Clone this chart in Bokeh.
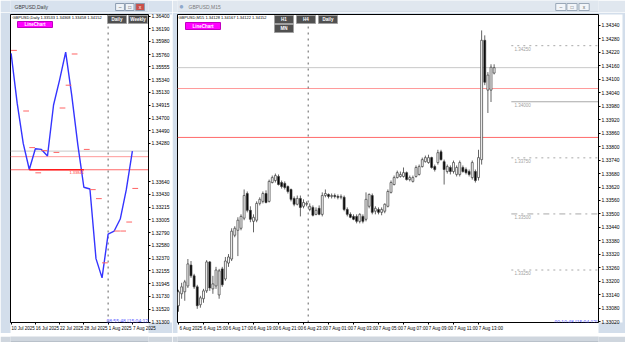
from bokeh.plotting import figure
from bokeh.layouts import row, column
from bokeh.models import (ColumnDataSource, FixedTicker, Span, Label, BoxAnnotation,
                          Range1d, PrintfTickFormatter)
from bokeh.core.properties import value
from bokeh.embed import file_html
from bokeh.resources import INLINE

# ---------------- data : GBPUSD Daily (left window) ----------------
daily_dates = ["10 Jul 2025", "11 Jul 2025", "14 Jul 2025", "15 Jul 2025", "16 Jul 2025",
               "17 Jul 2025", "18 Jul 2025", "21 Jul 2025", "22 Jul 2025", "23 Jul 2025",
               "24 Jul 2025", "25 Jul 2025", "28 Jul 2025", "29 Jul 2025", "30 Jul 2025",
               "31 Jul 2025", "1 Aug 2025", "4 Aug 2025", "5 Aug 2025", "6 Aug 2025", "7 Aug 2025"]
daily_close = [1.35780, 1.34950, 1.34280, 1.33845, 1.34190, 1.34180, 1.34070, 1.34920,
               1.35340, 1.35800, 1.35080, 1.34260, 1.33550, 1.33520, 1.32360, 1.32040,
               1.32770, 1.32820, 1.33020, 1.33510, 1.34152]
daily_tick_idx = [0, 4, 8, 12, 16, 20]
daily_tick_labels = ["10 Jul 2025", "16 Jul 2025", "22 Jul 2025", "28 Jul 2025", "1 Aug 2025", "7 Aug 2025"]
daily_mark_idx = [0, 2, 3, 4, 5, 7, 8, 9, 10, 12, 13, 14, 15, 17, 18, 19, 20]
daily_mark_price = [1.3583, 1.3482, 1.3421, 1.3379, 1.3416, 1.3413, 1.3487, 1.3525, 1.3577,
                    1.3418, 1.3351, 1.3336, 1.3229, 1.3282, 1.3282, 1.3297, 1.3353]
daily_price_ticks = [1.36400, 1.36190, 1.35980, 1.35760, 1.35555, 1.35340, 1.35130, 1.34915,
                     1.34700, 1.34490, 1.34280, 1.33640, 1.33430, 1.33215, 1.33005, 1.32790,
                     1.32580, 1.32370, 1.32155, 1.31945, 1.31730, 1.31520, 1.31300]
daily_separator_idx = 16
daily_support_from = 3
daily_support_to = 12

# ---------------- data : GBPUSD M15 (right window) ----------------
m15_open = [1.33091, 1.33144, 1.33153, 1.33179, 1.33272, 1.33224, 1.33175, 1.33095, 1.33122, 1.33157,
            1.33286, 1.33166, 1.33179, 1.33139, 1.33255, 1.33210, 1.33281, 1.33299, 1.33405, 1.33427,
            1.33436, 1.33481, 1.33591, 1.33516, 1.33467, 1.33472, 1.33547, 1.33556, 1.33591, 1.33556,
            1.33640, 1.33649, 1.33667, 1.33640, 1.33636, 1.33622, 1.33609, 1.33569, 1.33543, 1.33569,
            1.33534, 1.33543, 1.33520, 1.33529, 1.33498, 1.33525, 1.33498, 1.33582, 1.33587, 1.33578,
            1.33582, 1.33578, 1.33574, 1.33574, 1.33520, 1.33498, 1.33489, 1.33489, 1.33467, 1.33489,
            1.33476, 1.33534, 1.33582, 1.33512, 1.33520, 1.33507, 1.33512, 1.33534, 1.33596, 1.33631,
            1.33662, 1.33667, 1.33667, 1.33684, 1.33653, 1.33645, 1.33667, 1.33676, 1.33711, 1.33733,
            1.33729, 1.33751, 1.33711, 1.33729, 1.33777, 1.33733, 1.33689, 1.33707, 1.33689, 1.33676,
            1.33676, 1.33707, 1.33698, 1.33689, 1.33662, 1.33689, 1.33662, 1.33742, 1.34274, 1.34052,
            1.34052, 1.34128]
m15_high = [1.33162, 1.33193, 1.33206, 1.33299, 1.33290, 1.33233, 1.33184, 1.33135, 1.33166, 1.33294,
            1.33290, 1.33224, 1.33264, 1.33255, 1.33264, 1.33308, 1.33321, 1.33436, 1.33445, 1.33485,
            1.33498, 1.33609, 1.33600, 1.33534, 1.33498, 1.33556, 1.33574, 1.33600, 1.33605, 1.33653,
            1.33671, 1.33680, 1.33676, 1.33649, 1.33645, 1.33627, 1.33613, 1.33578, 1.33582, 1.33582,
            1.33565, 1.33556, 1.33547, 1.33538, 1.33529, 1.33538, 1.33596, 1.33609, 1.33591, 1.33591,
            1.33591, 1.33587, 1.33587, 1.33582, 1.33529, 1.33507, 1.33498, 1.33498, 1.33503, 1.33498,
            1.33596, 1.33591, 1.33591, 1.33534, 1.33529, 1.33529, 1.33547, 1.33609, 1.33649, 1.33671,
            1.33693, 1.33689, 1.33707, 1.33689, 1.33671, 1.33671, 1.33716, 1.33720, 1.33751, 1.33760,
            1.33764, 1.33755, 1.33720, 1.33786, 1.33786, 1.33742, 1.33720, 1.33716, 1.33738, 1.33716,
            1.33738, 1.33716, 1.33707, 1.33698, 1.33738, 1.33698, 1.33786, 1.34318, 1.34296, 1.34132,
            1.34167, 1.34167]
m15_low = [1.33064, 1.33122, 1.33113, 1.33170, 1.33215, 1.33166, 1.33077, 1.33082, 1.33104, 1.33148,
           1.33157, 1.33144, 1.33166, 1.33122, 1.33175, 1.33202, 1.33264, 1.33290, 1.33396, 1.33312,
           1.33427, 1.33472, 1.33507, 1.33463, 1.33418, 1.33463, 1.33538, 1.33547, 1.33547, 1.33551,
           1.33636, 1.33640, 1.33627, 1.33613, 1.33609, 1.33591, 1.33556, 1.33534, 1.33538, 1.33489,
           1.33525, 1.33534, 1.33512, 1.33489, 1.33494, 1.33494, 1.33489, 1.33574, 1.33569, 1.33569,
           1.33569, 1.33565, 1.33565, 1.33512, 1.33489, 1.33481, 1.33472, 1.33458, 1.33458, 1.33458,
           1.33467, 1.33525, 1.33498, 1.33498, 1.33498, 1.33494, 1.33503, 1.33529, 1.33591, 1.33627,
           1.33658, 1.33662, 1.33662, 1.33649, 1.33645, 1.33640, 1.33662, 1.33671, 1.33707, 1.33729,
           1.33724, 1.33702, 1.33689, 1.33720, 1.33738, 1.33631, 1.33680, 1.33676, 1.33680, 1.33667,
           1.33667, 1.33684, 1.33676, 1.33667, 1.33653, 1.33640, 1.33649, 1.33720, 1.34074, 1.33950,
           1.33999, 1.34122]
m15_close = [1.33153, 1.33175, 1.33197, 1.33277, 1.33224, 1.33175, 1.33091, 1.33126, 1.33157, 1.33286,
             1.33170, 1.33188, 1.33250, 1.33246, 1.33184, 1.33290, 1.33308, 1.33423, 1.33436, 1.33472,
             1.33489, 1.33582, 1.33516, 1.33476, 1.33485, 1.33547, 1.33565, 1.33591, 1.33551, 1.33645,
             1.33662, 1.33671, 1.33631, 1.33622, 1.33618, 1.33600, 1.33565, 1.33543, 1.33569, 1.33529,
             1.33551, 1.33547, 1.33534, 1.33494, 1.33516, 1.33498, 1.33582, 1.33591, 1.33578, 1.33582,
             1.33578, 1.33574, 1.33578, 1.33520, 1.33498, 1.33485, 1.33476, 1.33467, 1.33498, 1.33467,
             1.33565, 1.33587, 1.33507, 1.33525, 1.33507, 1.33520, 1.33543, 1.33600, 1.33640, 1.33662,
             1.33684, 1.33676, 1.33684, 1.33653, 1.33662, 1.33662, 1.33707, 1.33711, 1.33742, 1.33751,
             1.33751, 1.33707, 1.33698, 1.33773, 1.33742, 1.33698, 1.33711, 1.33689, 1.33729, 1.33707,
             1.33729, 1.33689, 1.33684, 1.33676, 1.33729, 1.33649, 1.33751, 1.34274, 1.34087, 1.34119,
             1.34154, 1.34152]
m15_tick_idx = [0, 8, 16, 24, 32, 40, 48, 56, 64, 72, 80, 88, 96]
m15_tick_labels = ["6 Aug 2025", "6 Aug 15:00", "6 Aug 17:00", "6 Aug 19:00", "6 Aug 21:00",
                   "6 Aug 23:00", "7 Aug 01:00", "7 Aug 03:00", "7 Aug 05:00", "7 Aug 07:00",
                   "7 Aug 09:00", "7 Aug 11:00", "7 Aug 13:00"]
m15_price_ticks = [1.34340, 1.34280, 1.34220, 1.34160, 1.34100, 1.34040, 1.33980, 1.33920,
                   1.33860, 1.33800, 1.33740, 1.33680, 1.33620, 1.33560, 1.33500, 1.33440,
                   1.33380, 1.33320, 1.33260, 1.33200, 1.33140, 1.33080, 1.33020]
m15_separator_idx = 41.5
round_levels = [1.34250, 1.34000, 1.33750, 1.33500, 1.33250]
round_level_dash = ["dotted", "solid", "dotted", "dashdot", "dotted"]

bid_price = 1.34152
level_upper = 1.34059
level_lower = 1.33841

# ---------------- helpers ----------------
FONT = "Liberation Sans"
CHROME = "#d3deeb"
TITLE_H, CHART_H, FOOT_H = 12, 321, 9


def box(p, x0, y0, x1, y1, fill, line=None):
    p.add_layout(BoxAnnotation(left=x0, right=x1, top=y0, bottom=y1,
                               left_units="canvas", right_units="canvas",
                               top_units="canvas", bottom_units="canvas",
                               fill_color=fill, fill_alpha=1.0,
                               line_color=line if line else fill, line_alpha=1.0,
                               line_width=1, level="overlay"))


def txt(p, x, y, s, size="5px", color="black", align="left", bold=False):
    p.add_layout(Label(x=x, y=y, text=s, x_units="canvas", y_units="canvas",
                       text_font=FONT, text_font_size=size, text_color=color,
                       text_align=align, text_baseline="middle",
                       text_font_style="bold" if bold else "normal", level="overlay"))


def price_tag(p, x, price, s, bg):
    p.add_layout(Label(x=x, y=price, text=s, x_units="canvas", y_units="data",
                       text_font=FONT, text_font_size="5px", text_color="white",
                       text_align="left", text_baseline="middle",
                       background_fill_color=bg, background_fill_alpha=1.0,
                       padding=1, level="overlay"))


def strip(w, h, bg):
    f = figure(width=w, height=h, output_backend="svg", toolbar_location=None,
               x_axis_type=None, y_axis_type=None, x_range=Range1d(0, w), y_range=Range1d(h, 0),
               min_border_left=0, min_border_right=0, min_border_top=0, min_border_bottom=0)
    f.outline_line_color = None
    f.background_fill_color = bg
    f.border_fill_color = bg
    f.grid.visible = False
    return f


def window_buttons(t, lefts, fills, fgs, border, symbols):
    t.quad(left=lefts, right=[x + 11 for x in lefts], top=[3] * len(lefts), bottom=[10] * len(lefts),
           fill_color=fills, line_color=border, line_width=1)
    t.text(x=[x + 5.5 for x in lefts], y=[6.8] * len(lefts), text=symbols, text_color=fgs,
           text_font=value(FONT), text_font_size="5px", text_align="center",
           text_baseline="middle")


def style(p, price_ticks, xt_major, xt_minor, labels):
    p.xgrid.visible = False
    p.ygrid.visible = False
    p.outline_line_color = "black"
    p.outline_line_alpha = 1.0
    p.background_fill_color = "white"
    p.border_fill_color = CHROME
    ya = p.yaxis[0]
    ya.background_fill_color = "white"
    ya.background_fill_alpha = 1.0
    ya.ticker = FixedTicker(ticks=price_ticks)
    ya.formatter = PrintfTickFormatter(format="%.5f")
    ya.major_label_text_font = FONT
    ya.major_label_text_font_size = "5px"
    ya.major_label_text_color = "black"
    ya.major_tick_out = 2
    ya.major_tick_in = 0
    ya.minor_tick_out = 0
    ya.major_label_standoff = 1
    ya.axis_line_color = "black"
    xa = p.xaxis[0]
    xa.background_fill_color = "white"
    xa.background_fill_alpha = 1.0
    xa.ticker = FixedTicker(ticks=xt_major, minor_ticks=xt_minor)
    xa.major_label_overrides = {t: s for t, s in zip(xt_major, labels)}
    xa.major_label_text_font = FONT
    xa.major_label_text_font_size = "4.5px"
    xa.major_label_text_color = "black"
    xa.major_tick_out = 0
    xa.major_tick_in = 0
    xa.minor_tick_out = 2
    xa.minor_tick_in = 0
    xa.minor_tick_line_color = "black"
    xa.major_label_standoff = 1
    xa.axis_line_color = "black"


# ---------------- left window : Daily line chart ----------------
t1 = strip(172, TITLE_H, "#d8e2ee")
t1.quad(left=[0], right=[172], top=[11], bottom=[12], fill_color="#c2cedc", line_color=None)
txt(t1, 6, 6, "\u25cf", size="8px", color="#5b82b8", align="center")
txt(t1, 14, 6, "GBPUSD,Daily", size="5px", color="#3c3c3c")
window_buttons(t1, [131, 143, 156], ["#eef2f7", "#eef2f7", "#c9504a"],
               ["#404040", "#404040", "white"], "#8c9cb0", ["\u2013", "\u25a1", "x"])

p1 = figure(width=172, height=CHART_H, output_backend="svg", toolbar_location=None,
            x_range=Range1d(-0.1, 22.66), y_range=Range1d(1.31296, 1.36428),
            y_axis_location="right", x_axis_location="below",
            min_border_left=10, min_border_right=22, min_border_top=2, min_border_bottom=9)
style(p1, daily_price_ticks, [i + 2 for i in daily_tick_idx], daily_tick_idx, daily_tick_labels)

for loc, col in ((bid_price, "#c8c8c8"), (level_upper, "#ff9a9a"), (level_lower, "#ff6a6a")):
    p1.add_layout(Span(location=loc, dimension="width", line_color=col, line_width=1, level="underlay"))
p1.add_layout(Span(location=daily_separator_idx, dimension="height", line_color="#606060",
                   line_width=1, line_dash="dotted", level="underlay"))

didx = list(range(len(daily_close)))
p1.line(didx, daily_close, line_color="#3434ff", line_width=1.4)
p1.segment(x0=daily_mark_idx, y0=daily_mark_price, x1=[i + 0.95 for i in daily_mark_idx],
           y1=daily_mark_price, line_color="#ff6464", line_width=1)
p1.segment(x0=[daily_support_from], y0=[level_lower], x1=[daily_support_to], y1=[level_lower],
           line_color="#ff1a1a", line_width=1.6)
p1.add_layout(Label(x=daily_support_to, y=level_lower, text=f"{level_lower:.5f}", text_font=FONT,
                    text_font_size="4px", text_color="#ff3030", text_align="right",
                    text_baseline="top", y_offset=-1))

txt(p1, 12, 5, "GBPUSD,Daily  1.33533 1.34368 1.33458 1.34152", size="4px")
box(p1, 17, 9, 52, 15, "#ff00ff", "#c000c0")
txt(p1, 34.5, 12, "LineChart", size="4.5px", color="white", align="center", bold=True)
box(p1, 107, 3, 126, 11, "#505050", "#a0a0a0")
txt(p1, 116.5, 7, "Daily", size="4.5px", color="white", align="center", bold=True)
box(p1, 128, 3, 147, 11, "#505050", "#a0a0a0")
txt(p1, 137.5, 7, "Weekly", size="4.5px", color="white", align="center", bold=True)
txt(p1, 149, 308, "08:55:48 [15:04:12]", size="5px", color="#5a5aff", align="right")
price_tag(p1, 152, bid_price, f"{bid_price:.5f}", "#000000")
price_tag(p1, 152, level_upper, f"{level_upper:.5f}", "#ff1f1f")
price_tag(p1, 152, level_lower, f"{level_lower:.5f}", "#ff1f1f")

f1 = strip(172, FOOT_H, "#cfd6de")
f1.quad(left=[0], right=[172], top=[5], bottom=[6], fill_color="#a3acb6", line_color=None)

# ---------------- right window : M15 candles ----------------
t2 = strip(453, TITLE_H, "#e0e7ef")
t2.quad(left=[0], right=[453], top=[11], bottom=[12], fill_color="#c8d3e0", line_color=None)
txt(t2, 9, 6, "\u25cf", size="8px", color="#8fa9cc", align="center")
txt(t2, 16, 6, "GBPUSD,M15", size="5px", color="#7a7a7a")
window_buttons(t2, [407, 419, 432], ["#f2f5f9", "#f2f5f9", "#f2f5f9"],
               ["#606060", "#606060", "#606060"], "#9aa8b8", ["\u2013", "\u25a1", "x"])

p2 = figure(width=453, height=CHART_H, output_backend="svg", toolbar_location=None,
            x_range=Range1d(-0.32, 134.4), y_range=Range1d(1.33016, 1.34389),
            y_axis_location="right", x_axis_location="below",
            min_border_left=5, min_border_right=27, min_border_top=2, min_border_bottom=9)
style(p2, m15_price_ticks, [i + 4 for i in m15_tick_idx], m15_tick_idx, m15_tick_labels)

for loc, col in ((bid_price, "#c8c8c8"), (level_upper, "#ff9a9a"), (level_lower, "#ff6a6a")):
    p2.add_layout(Span(location=loc, dimension="width", line_color=col, line_width=1, level="underlay"))
p2.add_layout(Span(location=m15_separator_idx, dimension="height", line_color="#606060",
                   line_width=1, line_dash="dotted", level="underlay"))

n = len(m15_close)
src = ColumnDataSource(dict(
    i=list(range(n)), o=m15_open, h=m15_high, l=m15_low, c=m15_close,
    top=[max(a, b) for a, b in zip(m15_open, m15_close)],
    bottom=[min(a, b) for a, b in zip(m15_open, m15_close)],
    fill=["white" if c >= o else "black" for o, c in zip(m15_open, m15_close)]))
p2.segment(x0="i", y0="l", x1="i", y1="h", source=src, line_color="#3c3c3c", line_width=0.8)
p2.vbar(x="i", width=0.62, top="top", bottom="bottom", fill_color="fill",
        line_color="#3c3c3c", line_width=0.7, source=src)

lvl_start = n + 4.5
for lvl, dash in zip(round_levels, round_level_dash):
    p2.segment(x0=[lvl_start], y0=[lvl], x1=[p2.x_range.end], y1=[lvl],
               line_color="#a8a8a8", line_width=1, line_dash=dash)
    p2.add_layout(Label(x=lvl_start + 1, y=lvl, text=f"{lvl:.5f}", text_font=FONT,
                        text_font_size="4.5px", text_color="#a0a0a0", text_align="left",
                        text_baseline="top", y_offset=-1))

txt(p2, 6, 5, "GBPUSD,M15  1.34128 1.34167 1.34122 1.34152", size="4px")
box(p2, 13, 10, 48, 17, "#ff00ff", "#c000c0")
txt(p2, 30.5, 13.5, "LineChart", size="4.5px", color="white", align="center", bold=True)
for x0, y0, lab in ((102, 3, "H1"), (124, 3, "H4"), (146, 3, "Daily"), (102, 12, "MN")):
    box(p2, x0, y0, x0 + 19, y0 + 8, "#505050", "#a0a0a0")
    txt(p2, x0 + 9.5, y0 + 4, lab, size="4.5px", color="white", align="center", bold=True)
txt(p2, 425, 309, "00:10:48 [15:04:12]", size="5px", color="#5a5aff", align="right")
price_tag(p2, 428, bid_price, f"{bid_price:.5f}", "#000000")
price_tag(p2, 428, level_upper, f"{level_upper:.5f}", "#ff1f1f")
price_tag(p2, 428, level_lower, f"{level_lower:.5f}", "#ff1f1f")

f2 = strip(453, FOOT_H, "#cfd6de")
f2.quad(left=[0], right=[453], top=[5], bottom=[6], fill_color="#a3acb6", line_color=None)

layout = row(column(t1, p1, f1, spacing=0), column(t2, p2, f2, spacing=0), spacing=0)
open("out.html", "w").write(file_html(layout, INLINE))
